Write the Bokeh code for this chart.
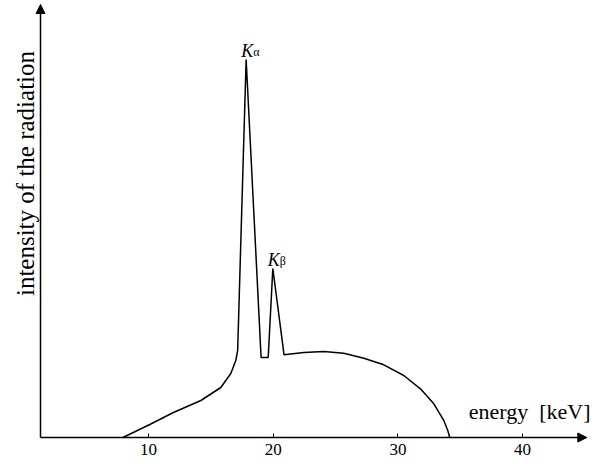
import math
from bokeh.plotting import figure
from bokeh.models import Range1d, Arrow, NormalHead, Label, FixedTicker
from bokeh.embed import file_html
from bokeh.resources import INLINE

# ---- data ----
energy = [7.95, 10.1, 12.0, 14.2, 15.8, 16.6, 17.0, 17.15, 17.83, 19.03, 19.6, 19.97,
          20.87, 22.45, 24.06, 25.66, 27.27, 28.87, 30.47, 31.81, 32.88, 33.28, 33.68,
          34.0, 34.16]
intensity = [0, 13, 25, 37, 50, 64, 77, 87, 378, 80, 80, 169,
             82.7, 85, 86, 84.3, 79.3, 72.7, 62, 48.7, 33.7, 25.3, 17,
             7, 0]
tick_values = [10, 20, 30, 40]
x_label = "energy\u00a0\u00a0[keV]"
y_label = "intensity of the radiation"
peak_names = ["K", "K"]
peak_subs = ["\u03b1", "\u03b2"]
peak_energy = [17.83, 19.97]
peak_intensity = [378, 169]

W, H = 592, 463
PX_PER_KEV = 12.47
ORIGIN_PX = 23.3        # pixel column of energy 0
AXIS_PX = 437           # pixel row of intensity 0
X_AXIS_START = 1.34     # where the axes cross
X_AXIS_END = 45.15
Y_AXIS_END = 433
SERIF = "Liberation Serif"

p = figure(width=W, height=H, output_backend="svg", toolbar_location=None,
           x_range=Range1d(-ORIGIN_PX / PX_PER_KEV, (W - ORIGIN_PX) / PX_PER_KEV),
           y_range=Range1d(-(H - AXIS_PX), AXIS_PX),
           min_border_left=0, min_border_right=0, min_border_top=0,
           min_border_bottom=0)
p.outline_line_color = None
p.grid.visible = False
p.yaxis.visible = False
p.background_fill_color = "white"
p.border_fill_color = "white"

xa = p.xaxis[0]
xa.fixed_location = 0
xa.ticker = FixedTicker(ticks=tick_values)
xa.axis_line_color = None
xa.major_tick_in = 4
xa.major_tick_out = 0
xa.major_tick_line_color = "black"
xa.minor_tick_in = 0
xa.minor_tick_out = 0
xa.major_label_text_font = SERIF
xa.major_label_text_font_size = "17px"
xa.major_label_text_color = "black"
xa.major_label_standoff = 6

# spectrum
p.line(energy, intensity, line_color="black", line_width=1.5)

# axes arrows
p.add_layout(Arrow(x_start=X_AXIS_START, y_start=0, x_end=X_AXIS_END, y_end=0,
                   line_color="black", line_width=1.5,
                   end=NormalHead(size=9, fill_color="black", line_color="black")))
p.add_layout(Arrow(x_start=X_AXIS_START, y_start=0, x_end=X_AXIS_START, y_end=Y_AXIS_END,
                   line_color="black", line_width=1.5,
                   end=NormalHead(size=9, fill_color="black", line_color="black")))

# axis titles
p.add_layout(Label(x=45.45, y=26, text=x_label, text_align="right",
                   text_baseline="alphabetic", text_font=SERIF,
                   text_font_size="22px", text_color="black"))
p.add_layout(Label(x=0.1, y=264, text=y_label, angle=math.pi / 2,
                   text_align="center", text_baseline="middle",
                   text_font=SERIF, text_font_size="25px", text_color="black"))

# peak labels
for name, sub, e, i in zip(peak_names, peak_subs, peak_energy, peak_intensity):
    p.add_layout(Label(x=e, y=i + 9, text=name, text_align="center",
                       text_baseline="alphabetic", text_font=SERIF,
                       text_font_style="italic", text_font_size="18px",
                       text_color="black", x_offset=1))
    p.add_layout(Label(x=e, y=i + 9, text=sub, text_align="left",
                       text_baseline="alphabetic", text_font=SERIF,
                       text_font_size="12px", text_color="black",
                       x_offset=7, y_offset=-1))

open("out.html", "w").write(file_html(p, INLINE))
